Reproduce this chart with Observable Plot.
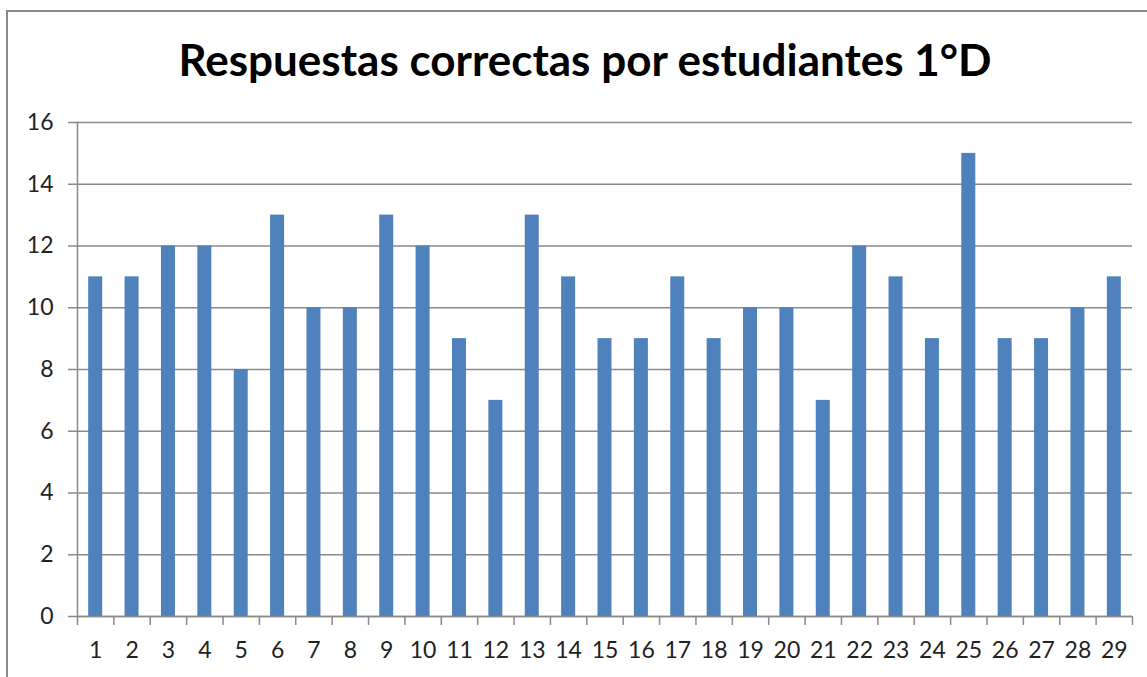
<!DOCTYPE html>
<html>
<head>
<meta charset="utf-8">
<script src="https://cdn.jsdelivr.net/npm/d3@7"></script>
<script src="https://cdn.jsdelivr.net/npm/@observablehq/plot@0.6"></script>
<style>
  html, body { margin: 0; padding: 0; background: #fff; overflow: hidden; }
  #wrap { position: relative; width: 1147px; height: 677px; }
  #frame { position: absolute; left: 6px; top: 10px; width: 1160px; height: 700px;
           border: 2px solid #8a8a8a; box-sizing: border-box; }
  #title { position: absolute; left: 0; top: 33px; width: 1170px; text-align: center;
           font-family: Lato, sans-serif; font-weight: bold; font-size: 44px; color: #000; }
  #chart { position: absolute; left: 0; top: 0; }
</style>
</head>
<body>
<div id="wrap">
  <div id="frame"></div>
  <div id="title">Respuestas correctas por estudiantes 1°D</div>
  <div id="chart"></div>
</div>
<script>
const students = [1,2,3,4,5,6,7,8,9,10,11,12,13,14,15,16,17,18,19,20,21,22,23,24,25,26,27,28,29];
const correct = [11,11,12,12,8,13,10,10,13,12,9,7,13,11,9,9,11,9,10,10,7,12,11,9,15,9,9,10,11];
const yTicks = [0,2,4,6,8,10,12,14,16];

const data = students.map((s, i) => ({student: s, value: correct[i]}));

const W = 1147, H = 677;
const mL = 77, mR = 15, mT = 122, mB = 61;
const step = (W - mL - mR) / students.length;
const gridColor = "#8a8a8a";

const chart = Plot.plot({
  width: W, height: H,
  marginLeft: mL, marginRight: mR, marginTop: mT, marginBottom: mB,
  style: {fontFamily: "Lato, sans-serif", fontSize: "23px", color: "#222", background: "transparent"},
  x: {type: "band", domain: students, paddingInner: 0.615, paddingOuter: 0.3075, align: 0.5, round: false, axis: null},
  y: {domain: [0, 16], axis: null},
  marks: [
    Plot.gridY(yTicks, {stroke: gridColor, strokeOpacity: 1, strokeWidth: 1.5}),
    Plot.axisY(yTicks, {tickSize: 9, tickPadding: 15, stroke: gridColor, strokeWidth: 1.5, fontSize: 23, fill: "#222", label: null}),
    Plot.barY(data, {x: "student", y: "value", fill: "#4F81BD"}),
    Plot.frame({anchor: "left", stroke: gridColor, strokeWidth: 1.5}),
    Plot.ruleY([0], {stroke: gridColor, strokeWidth: 1.5}),
    Plot.axisX(students, {tickSize: 9, tickFormat: () => "", dx: -step / 2, stroke: gridColor, strokeWidth: 1.5, label: null}),
    Plot.axisX([students[students.length - 1]], {tickSize: 9, tickFormat: () => "", dx: step / 2, stroke: gridColor, strokeWidth: 1.5, label: null}),
    Plot.axisX(students, {tickSize: 0, tickPadding: 25, fontSize: 23, fill: "#222", label: null})
  ]
});
document.getElementById("chart").appendChild(chart);
</script>
</body>
</html>
